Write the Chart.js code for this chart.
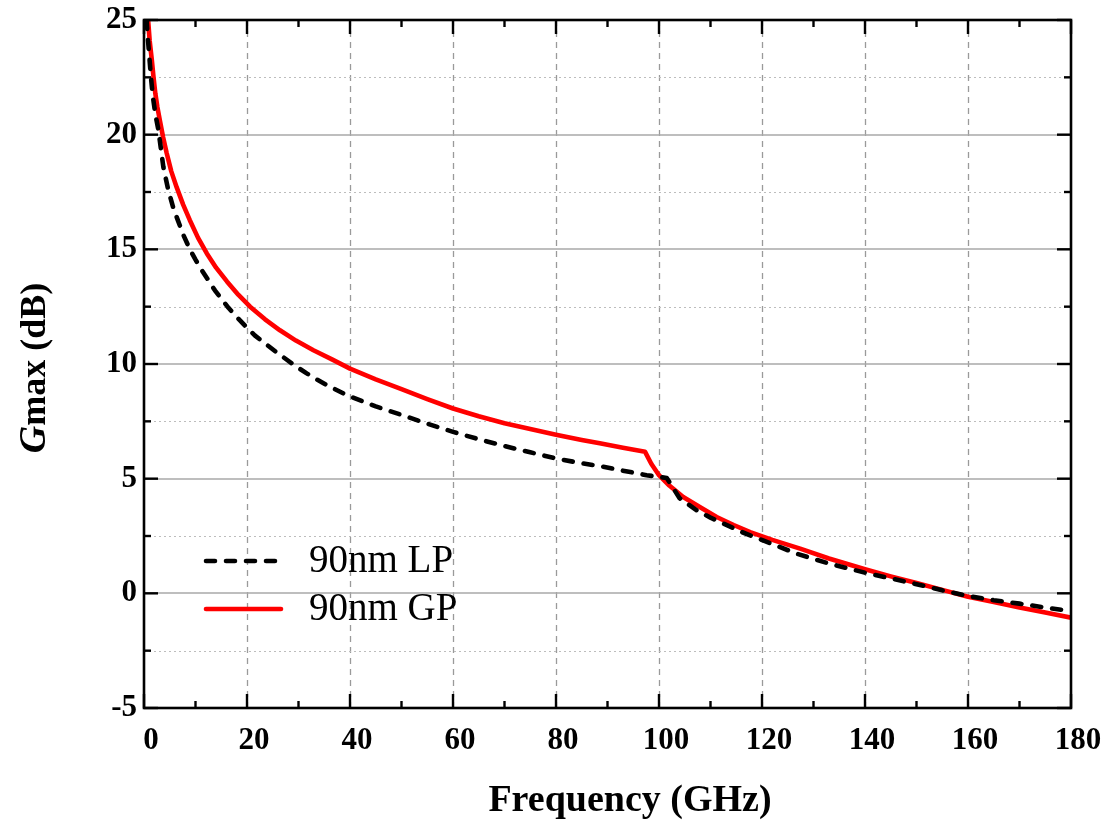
<!DOCTYPE html>
<html>
<head>
<meta charset="utf-8">
<script src="https://cdn.jsdelivr.net/npm/chart.js@4/dist/chart.umd.min.js"></script>
<style>
  html, body { margin: 0; padding: 0; background: #fff; }
  #wrap { width: 1111px; height: 823px; }
</style>
</head>
<body>
<div id="wrap"><canvas id="c" width="1111" height="823"></canvas></div>
<script>
// Maximum available gain vs frequency for two 90 nm process flavours
const seriesNames = ['90nm LP', '90nm GP'];

// 90nm LP: [frequency GHz, Gmax dB]
const lpFreq = [0.5, 0.75, 1.0, 1.35, 1.7, 2.2, 2.8, 3.75, 4.7, 5.7, 6.6, 7.6, 8.9, 10, 11.2, 12.5, 13.8, 15, 16.4, 18, 19.9, 21.5, 23.5, 25.5, 27.4, 29.5, 31.6, 33.5, 35.5, 39.4, 45, 50, 55, 60, 65, 70, 75, 80, 85, 88.5, 93, 97.6, 101.5, 104, 107.3, 110, 112.5, 116, 120.2, 126.7, 133, 140, 145, 150, 155, 160, 165, 170, 175, 180];
const lpGain = [25, 24.2, 23.5, 22.5, 21.7, 20.9, 20.2, 18.6, 17.6, 16.8, 16.25, 15.65, 15.0, 14.55, 14.1, 13.65, 13.2, 12.85, 12.45, 12.05, 11.6, 11.25, 10.9, 10.55, 10.24, 9.9, 9.59, 9.33, 9.08, 8.64, 8.15, 7.78, 7.4, 7.04, 6.72, 6.42, 6.15, 5.88, 5.67, 5.55, 5.35, 5.15, 5.03, 4.15, 3.62, 3.3, 3.04, 2.68, 2.31, 1.73, 1.3, 0.9, 0.65, 0.4, 0.13, -0.12, -0.3, -0.45, -0.62, -0.78];

// 90nm GP: [frequency GHz, Gmax dB]
const gpFreq = [0.8, 1.1, 1.5, 1.85, 2.2, 2.6, 3.1, 3.7, 4.4, 5.3, 6.35, 7.6, 8.9, 10.5, 12.2, 14, 16.1, 18.3, 20.6, 23.5, 26.4, 29.5, 32.9, 36.5, 40, 45, 50, 55, 60, 65, 70, 75, 80, 85, 88.5, 93, 97.3, 98.5, 100, 102, 104.7, 108, 111.2, 114.5, 117.7, 122, 127.4, 133, 140, 145, 150, 155, 160, 165, 170, 175, 180];
const gpGain = [25, 24.1, 23.3, 22.5, 21.8, 21.2, 20.6, 19.9, 19.2, 18.4, 17.7, 16.95, 16.27, 15.5, 14.82, 14.2, 13.6, 13.02, 12.5, 11.95, 11.47, 11.02, 10.6, 10.2, 9.8, 9.33, 8.9, 8.47, 8.06, 7.72, 7.42, 7.17, 6.92, 6.69, 6.54, 6.35, 6.17, 5.65, 5.15, 4.7, 4.2, 3.75, 3.33, 2.98, 2.67, 2.33, 1.95, 1.52, 1.05, 0.74, 0.45, 0.15, -0.15, -0.38, -0.62, -0.84, -1.06];

// Axis tick values
const xTicks = [0, 20, 40, 60, 80, 100, 120, 140, 160, 180];
const xMinorTicks = [10, 30, 50, 70, 90, 110, 130, 150, 170];
const yTicks = [-5, 0, 5, 10, 15, 20, 25];
const yMinorTicks = [-2.5, 2.5, 7.5, 12.5, 17.5, 22.5];

const SERIF = '"Liberation Serif", "Times New Roman", serif';

const toPoints = (xs, ys) => xs.map((x, i) => ({ x: x, y: ys[i] }));

// Grid lines behind the curves
const gridPlugin = {
  id: 'gridLines',
  beforeDatasetsDraw(chart) {
    const { ctx, chartArea: a, scales: { x, y } } = chart;
    ctx.save();
    // vertical dashed lines at major frequency ticks
    ctx.strokeStyle = '#9a9a9a';
    ctx.lineWidth = 1.3;
    ctx.setLineDash([6, 5]);
    xTicks.forEach(v => {
      const px = Math.round(x.getPixelForValue(v)) + 0.5;
      if (px <= a.left + 2 || px >= a.right - 2) return;
      ctx.beginPath(); ctx.moveTo(px, a.top); ctx.lineTo(px, a.bottom); ctx.stroke();
    });
    // dotted minor horizontal lines
    ctx.strokeStyle = '#bdbdbd';
    ctx.lineWidth = 1;
    ctx.setLineDash([2, 3]);
    yMinorTicks.forEach(v => {
      const py = Math.round(y.getPixelForValue(v)) + 0.5;
      ctx.beginPath(); ctx.moveTo(a.left, py); ctx.lineTo(a.right, py); ctx.stroke();
    });
    // solid major horizontal lines
    ctx.strokeStyle = '#a8a8a8';
    ctx.lineWidth = 1.6;
    ctx.setLineDash([]);
    yTicks.forEach(v => {
      const py = Math.round(y.getPixelForValue(v));
      if (py <= a.top + 2 || py >= a.bottom - 2) return;
      ctx.beginPath(); ctx.moveTo(a.left, py); ctx.lineTo(a.right, py); ctx.stroke();
    });
    ctx.restore();
  }
};

// Frame, inward ticks, legend and axis titles
const framePlugin = {
  id: 'frameTicks',
  afterDatasetsDraw(chart) {
    const { ctx, chartArea: a, scales: { x, y } } = chart;
    ctx.save();
    ctx.strokeStyle = '#000';
    ctx.lineWidth = 2.6;
    ctx.setLineDash([]);
    ctx.strokeRect(a.left, a.top, a.right - a.left, a.bottom - a.top);

    const major = 14, minor = 7;
    ctx.lineWidth = 2.4;
    const vTick = (v, len) => {
      const px = x.getPixelForValue(v);
      ctx.beginPath(); ctx.moveTo(px, a.bottom); ctx.lineTo(px, a.bottom - len); ctx.stroke();
      ctx.beginPath(); ctx.moveTo(px, a.top); ctx.lineTo(px, a.top + len); ctx.stroke();
    };
    const hTick = (v, len) => {
      const py = y.getPixelForValue(v);
      ctx.beginPath(); ctx.moveTo(a.left, py); ctx.lineTo(a.left + len, py); ctx.stroke();
      ctx.beginPath(); ctx.moveTo(a.right, py); ctx.lineTo(a.right - len, py); ctx.stroke();
    };
    xTicks.forEach(v => vTick(v, major));
    xMinorTicks.forEach(v => vTick(v, minor));
    yTicks.forEach(v => hTick(v, major));
    yMinorTicks.forEach(v => hTick(v, minor));

    // legend
    const rows = [561, 609];
    chart.data.datasets.forEach((ds, i) => {
      const yy = rows[i];
      ctx.strokeStyle = ds.borderColor;
      ctx.lineWidth = ds.borderWidth;
      ctx.lineCap = ds.borderCapStyle || 'butt';
      ctx.setLineDash(ds.borderDash || []);
      ctx.beginPath(); ctx.moveTo(206, yy); ctx.lineTo(281, yy); ctx.stroke();
      ctx.setLineDash([]);
      ctx.fillStyle = '#000';
      ctx.font = '39px ' + SERIF;
      ctx.textBaseline = 'middle';
      ctx.textAlign = 'left';
      ctx.fillText(ds.label, 309, yy + 1);
    });

    // x-axis title
    ctx.fillStyle = '#000';
    ctx.font = 'bold 38px ' + SERIF;
    ctx.textAlign = 'center';
    ctx.textBaseline = 'alphabetic';
    ctx.fillText('Frequency (GHz)', 630, 811);

    // y-axis title with italic G
    ctx.translate(45, 368);
    ctx.rotate(-Math.PI / 2);
    ctx.textBaseline = 'alphabetic';
    const gFont = 'italic bold 38px ' + SERIF;
    const restFont = 'bold 36px ' + SERIF;
    ctx.font = gFont; const wG = ctx.measureText('G').width;
    ctx.font = restFont; const wR = ctx.measureText('max (dB)').width;
    const start = -(wG + wR) / 2;
    ctx.textAlign = 'left';
    ctx.font = gFont; ctx.fillText('G', start, 0);
    ctx.font = restFont; ctx.fillText('max (dB)', start + wG, 0);
    ctx.restore();
  }
};

new Chart(document.getElementById('c'), {
  type: 'line',
  data: {
    datasets: [
      {
        label: seriesNames[0],
        data: toPoints(lpFreq, lpGain),
        borderColor: '#000000',
        borderWidth: 4.6,
        borderDash: [9, 11],
        borderCapStyle: 'round',
        borderJoinStyle: 'round',
        pointRadius: 0,
        tension: 0,
        fill: false
      },
      {
        label: seriesNames[1],
        data: toPoints(gpFreq, gpGain),
        borderColor: '#ff0000',
        borderWidth: 4.6,
        borderCapStyle: 'round',
        borderJoinStyle: 'round',
        pointRadius: 0,
        tension: 0,
        fill: false
      }
    ]
  },
  options: {
    responsive: false,
    animation: false,
    devicePixelRatio: 1,
    layout: { padding: { left: 0, right: 40, top: 20, bottom: 0 } },
    plugins: { legend: { display: false }, tooltip: { enabled: false } },
    scales: {
      x: {
        type: 'linear',
        min: 0, max: 180,
        grid: { display: false, drawTicks: false },
        border: { display: false },
        afterFit: s => { s.height = 115; s.paddingLeft = 0; s.paddingRight = 0; },
        afterBuildTicks: s => { s.ticks = xTicks.map(v => ({ value: v })); },
        ticks: {
          autoSkip: false, maxRotation: 0, padding: 14, labelOffset: 7,
          color: '#000', font: { family: SERIF, size: 31, weight: 'bold' }
        }
      },
      y: {
        type: 'linear',
        min: -5, max: 25,
        grid: { display: false, drawTicks: false },
        border: { display: false },
        afterFit: s => { s.width = 144; s.paddingTop = 0; s.paddingBottom = 0; },
        afterBuildTicks: s => { s.ticks = yTicks.map(v => ({ value: v })); },
        ticks: {
          autoSkip: false, padding: 7,
          color: '#000', font: { family: SERIF, size: 31, weight: 'bold' }
        }
      }
    }
  },
  plugins: [gridPlugin, framePlugin]
});
</script>
</body>
</html>
